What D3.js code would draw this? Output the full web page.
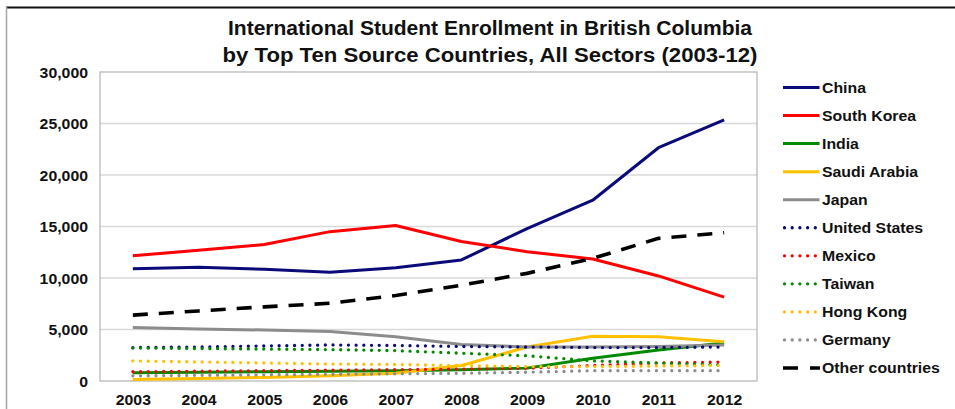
<!DOCTYPE html>
<html>
<head>
<meta charset="utf-8">
<script src="https://cdn.jsdelivr.net/npm/d3@7"></script>
<style>
  html, body { margin: 0; padding: 0; background: #fff; }
  svg { display: block; }
  text { font-family: "Liberation Sans", Arial, sans-serif; font-weight: bold; fill: #111; }
</style>
</head>
<body>
<svg id="chart" width="955" height="409"></svg>
<script>
// ---------- data ----------
const years = ["2003","2004","2005","2006","2007","2008","2009","2010","2011","2012"];
const yTicks = [0, 5000, 10000, 15000, 20000, 25000, 30000];
const titleLines = ["International Student Enrollment in British Columbia",
                    "by Top Ten Source Countries, All Sectors (2003-12)"];

const china        = [10900, 11050, 10850, 10550, 11000, 11750, 14800, 17550, 22650, 25350];
const southKorea   = [12150, 12700, 13250, 14500, 15100, 13550, 12550, 11850, 10200, 8150];
const india        = [800, 850, 900, 950, 1000, 1100, 1250, 2200, 3000, 3700];
const saudiArabia  = [150, 250, 350, 500, 750, 1500, 3300, 4350, 4300, 3800];
const japan        = [5200, 5050, 4950, 4800, 4300, 3550, 3300, 3300, 3350, 3500];
const unitedStates = [3250, 3300, 3400, 3500, 3450, 3350, 3300, 3250, 3250, 3300];
const mexico       = [900, 950, 1000, 1050, 1100, 1150, 1250, 1500, 1750, 1850];
const taiwan       = [3200, 3150, 3100, 3050, 2950, 2700, 2450, 1950, 1750, 1550];
const hongKong     = [1950, 1850, 1750, 1650, 1600, 1500, 1400, 1400, 1450, 1500];
const germany      = [500, 550, 600, 650, 700, 750, 850, 1000, 1000, 1000];
const other        = [6400, 6800, 7200, 7550, 8300, 9300, 10450, 11900, 13850, 14400];

const seriesNames = ["China","South Korea","India","Saudi Arabia","Japan","United States",
                     "Mexico","Taiwan","Hong Kong","Germany","Other countries"];
const seriesValues = [china, southKorea, india, saudiArabia, japan, unitedStates,
                      mexico, taiwan, hongKong, germany, other];
const seriesColors = ["#0a0a78","#ff0000","#008a00","#ffc000","#8c8c8c","#0a0a78",
                      "#ff0000","#008a00","#ffc000","#8c8c8c","#000000"];
const seriesStyles = ["solid","solid","solid","solid","solid","dot","dot","dot","dot","dot","dash"];

// ---------- layout ----------
const svg = d3.select("#chart");
const plot = { left: 100, right: 757, top: 72, bottom: 381 };
const STRETCH = 1.13;

const x = d3.scalePoint().domain(years).range([plot.left, plot.right]).padding(0.5);
const y = d3.scaleLinear().domain([0, 30000]).range([plot.bottom, plot.top]);

function stretch(sel, factor) {
  sel.each(function() {
    const len = this.getComputedTextLength();
    d3.select(this).attr("textLength", len * (factor || STRETCH)).attr("lengthAdjust", "spacingAndGlyphs");
  });
}

// outer frame
svg.append("line").attr("x1", 6).attr("x2", 955).attr("y1", 7.5).attr("y2", 7.5)
  .attr("stroke", "#111").attr("stroke-width", 2);
svg.append("line").attr("x1", 6.5).attr("x2", 6.5).attr("y1", 7).attr("y2", 409)
  .attr("stroke", "#a6a6a6").attr("stroke-width", 1.5);

// title
const titleW = [524, 535];
titleLines.forEach((t, i) => {
  const el = svg.append("text").attr("x", 490).attr("y", 35 + i * 26.5)
    .attr("text-anchor", "middle").style("font-size", "20px").text(t);
  el.attr("textLength", titleW[i]).attr("lengthAdjust", "spacingAndGlyphs");
});

// gridlines
svg.append("g").selectAll("line").data(yTicks.filter(d => d > 0 && d < 30000)).join("line")
  .attr("x1", plot.left).attr("x2", plot.right)
  .attr("y1", d => y(d)).attr("y2", d => y(d))
  .attr("stroke", "#d9d9d9").attr("stroke-width", 1.5);

// plot frame
svg.append("rect").attr("x", plot.left).attr("y", plot.top)
  .attr("width", plot.right - plot.left).attr("height", plot.bottom - plot.top)
  .attr("fill", "none").attr("stroke", "#b3b3b3").attr("stroke-width", 1.2);

// y axis labels
const yAxis = d3.axisLeft(y).tickValues(yTicks).tickSize(0).tickPadding(0)
  .tickFormat(d3.format(","));
const gy = svg.append("g").attr("transform", `translate(${88},0)`).call(yAxis);
gy.select(".domain").remove();
gy.selectAll("text").style("font-size", "14px").style("font-family", null)
  .attr("fill", "#111").attr("dy", "0.36em").attr("x", 0);
stretch(gy.selectAll("text"));

// x axis labels
const xAxis = d3.axisBottom(x).tickSize(0).tickPadding(0);
const gx = svg.append("g").attr("transform", `translate(0,${400})`).call(xAxis);
gx.select(".domain").remove();
gx.selectAll("text").style("font-size", "14px").style("font-family", null)
  .attr("fill", "#111").attr("dy", "0.36em").attr("y", 0);
stretch(gx.selectAll("text"));

// lines
const lineGen = d3.line().x((d, i) => x(years[i])).y(d => y(d));
function styleLine(sel, style, color) {
  sel.attr("fill", "none").attr("stroke", color);
  if (style === "solid") {
    sel.attr("stroke-width", 3).attr("stroke-linejoin", "round");
  } else if (style === "dot") {
    sel.attr("stroke-width", 3.3).attr("stroke-linecap", "round").attr("stroke-dasharray", "0,7.7");
  } else {
    sel.attr("stroke-width", 3.6).attr("stroke-dasharray", "15,11");
  }
}
seriesValues.forEach((vals, i) => {
  const p = svg.append("path").attr("d", lineGen(vals));
  styleLine(p, seriesStyles[i], seriesColors[i]);
});

// legend
const legend = svg.append("g");
seriesNames.forEach((name, i) => {
  const ly = 87.5 + i * 28.05;
  const style = seriesStyles[i];
  const p = legend.append("line").attr("y1", ly).attr("y2", ly);
  if (style === "dot") p.attr("x1", 784.5).attr("x2", 818);
  else if (style === "dash") p.attr("x1", 783).attr("x2", 820);
  else p.attr("x1", 783).attr("x2", 819.5);
  styleLine(p, style, seriesColors[i]);
  if (style === "dash") p.attr("stroke-dasharray", "15,12");
  const t = legend.append("text").attr("x", 822).attr("y", ly).attr("dy", "0.36em")
    .style("font-size", "14px").text(name);
  stretch(t);
});
</script>
</body>
</html>
